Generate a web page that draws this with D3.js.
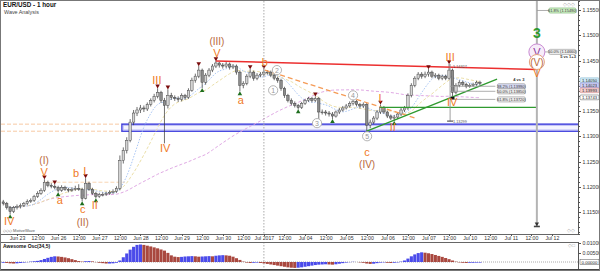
<!DOCTYPE html>
<html>
<head>
<meta charset="utf-8">
<style>
    body { margin: 0; background: #fff; }
    svg { display: block; font-family: "Liberation Sans", Arial, sans-serif; }
    .axis path, .axis line { stroke: #555; shape-rendering: crispEdges; }
    .axis text { fill: #333; font-size: 5.2px; }
</style>
</head>
<body>
<div id="chart"></div>
<script src="https://cdn.jsdelivr.net/npm/d3@7"></script>
<script>

const W = 600, H = 271;

// 2-hour bars, hour index counted in trading hours from Jun 23 00:00
const startHour = -8;
const barHours = 2;
const firstOpen = 1.1170;

const closes = [
    1.1167,1.1159,1.1151,1.1159,1.1161,1.1163,1.1167,1.1171,1.1173,1.1181,
    1.1187,1.1193,1.1209,1.1203,1.1201,1.1199,1.1193,1.1199,1.1195,1.1193,
    1.1195,1.1197,1.1195,1.1177,1.1207,1.1195,1.1187,1.1181,1.1185,1.1185,
    1.1187,1.1189,1.1191,1.1197,1.1252,1.1272,1.1292,1.1328,1.1346,1.1352,
    1.1356,1.1354,1.1363,1.1371,1.1379,1.1387,1.1371,1.1361,1.1381,1.1377,
    1.1375,1.1373,1.1381,1.1377,1.1391,1.1411,1.1419,1.1431,1.1407,1.1421,
    1.1431,1.1439,1.1445,1.1441,1.1439,1.1443,1.1437,1.1439,1.1427,1.1401,
    1.1405,1.1419,1.1427,1.1415,1.1421,1.1423,1.1427,1.1427,1.1421,1.1415,
    1.1411,1.1395,1.1381,1.1371,1.1365,1.1361,1.1357,1.1365,1.1371,1.1375,
    1.1371,1.1375,1.1348,1.1348,1.1346,1.1344,1.1340,1.1348,1.1352,1.1356,
    1.1360,1.1365,1.1369,1.1363,1.1360,1.1363,1.1322,1.1328,1.1336,1.1348,
    1.1357,1.1348,1.1340,1.1336,1.1338,1.1344,1.1352,1.1356,1.1381,1.1401,
    1.1415,1.1423,1.1419,1.1423,1.1427,1.1419,1.1421,1.1415,1.1419,1.1415,
    1.1431,1.1387,1.1401,1.1407,1.1403,1.1399,1.1401,1.1403,1.1407,1.1405
];
const highs = [
    1.1174,1.1170,1.1162,1.1162,1.1165,1.1167,1.1170,1.1175,1.1177,1.1184,
    1.1191,1.1197,1.1215,1.1212,1.1207,1.1205,1.1202,1.1203,1.1202,1.1198,
    1.1199,1.1202,1.1205,1.1198,1.1217,1.1210,1.1198,1.1190,1.1188,1.1189,
    1.1190,1.1193,1.1195,1.1201,1.1262,1.1278,1.1298,1.1334,1.1352,1.1358,
    1.1362,1.1361,1.1367,1.1375,1.1384,1.1395,1.1390,1.1376,1.1393,1.1386,
    1.1381,1.1379,1.1385,1.1384,1.1395,1.1416,1.1424,1.1439,1.1434,1.1425,
    1.1435,1.1443,1.1449,1.1447,1.1445,1.1447,1.1446,1.1443,1.1442,1.1430,
    1.1409,1.1423,1.1433,1.1430,1.1425,1.1427,1.1433,1.1431,1.1430,1.1424,
    1.1418,1.1414,1.1398,1.1384,1.1375,1.1369,1.1364,1.1368,1.1374,1.1378,
    1.1378,1.1379,1.1378,1.1353,1.1352,1.1350,1.1348,1.1351,1.1356,1.1360,
    1.1364,1.1369,1.1373,1.1372,1.1366,1.1367,1.1366,1.1333,1.1340,1.1352,
    1.1363,1.1360,1.1351,1.1343,1.1342,1.1348,1.1356,1.1360,1.1385,1.1405,
    1.1419,1.1427,1.1427,1.1428,1.1433,1.1430,1.1425,1.1424,1.1422,1.1422,
    1.1443,1.1434,1.1405,1.1411,1.1410,1.1406,1.1405,1.1406,1.1410,1.1410
];
const lows = [
    1.1163,1.1155,1.1145,1.1148,1.1155,1.1157,1.1160,1.1164,1.1168,1.1170,
    1.1178,1.1184,1.1190,1.1199,1.1197,1.1195,1.1189,1.1190,1.1192,1.1189,
    1.1190,1.1192,1.1192,1.1171,1.1175,1.1192,1.1184,1.1177,1.1178,1.1181,
    1.1182,1.1184,1.1186,1.1188,1.1193,1.1246,1.1266,1.1288,1.1322,1.1340,
    1.1346,1.1348,1.1350,1.1359,1.1367,1.1375,1.1366,1.1286,1.1355,1.1372,
    1.1370,1.1368,1.1369,1.1372,1.1374,1.1388,1.1406,1.1415,1.1395,1.1402,
    1.1417,1.1427,1.1435,1.1436,1.1434,1.1435,1.1432,1.1433,1.1422,1.1389,
    1.1395,1.1401,1.1415,1.1410,1.1411,1.1417,1.1419,1.1422,1.1417,1.1411,
    1.1406,1.1390,1.1376,1.1367,1.1361,1.1357,1.1353,1.1354,1.1362,1.1368,
    1.1367,1.1368,1.1334,1.1343,1.1341,1.1339,1.1334,1.1337,1.1344,1.1349,
    1.1353,1.1357,1.1361,1.1359,1.1355,1.1356,1.1310,1.1316,1.1324,1.1332,
    1.1344,1.1344,1.1336,1.1332,1.1330,1.1334,1.1340,1.1348,1.1352,1.1377,
    1.1397,1.1411,1.1414,1.1415,1.1418,1.1415,1.1415,1.1411,1.1411,1.1411,
    1.1412,1.1379,1.1383,1.1397,1.1399,1.1395,1.1396,1.1398,1.1400,1.1401
];

// Awesome Oscillator (34,5), one value per bar
const aoValues = [
    -0.0004,-0.0005,-0.0007,-0.0008,-0.0007,-0.0005,-0.0003,-0.0001,0.0002,0.0004,
    0.0006,0.0010,0.0016,0.0022,0.0027,0.0030,0.0029,0.0027,0.0024,0.0020,
    0.0015,0.0010,0.0005,0.0002,0.0004,0.0005,0.0003,-0.0001,-0.0004,-0.0006,
    -0.0008,-0.0008,-0.0007,-0.0004,0.0008,0.0025,0.0045,0.0065,0.0080,0.0090,
    0.0092,0.0090,0.0086,0.0082,0.0077,0.0072,0.0066,0.0060,0.0048,0.0035,
    0.0028,0.0026,0.0027,0.0029,0.0030,0.0031,0.0030,0.0028,0.0029,0.0030,
    0.0031,0.0030,0.0033,0.0035,0.0036,0.0035,0.0033,0.0028,0.0020,0.0011,
    0.0002,-0.0003,-0.0005,-0.0004,-0.0003,-0.0005,-0.0007,-0.0010,-0.0013,-0.0016,
    -0.0019,-0.0022,-0.0025,-0.0028,-0.0030,-0.0031,-0.0030,-0.0028,-0.0025,-0.0022,
    -0.0019,-0.0016,-0.0014,-0.0013,-0.0012,-0.0013,-0.0014,-0.0012,-0.0009,-0.0006,
    -0.0003,-0.0001,0.0001,0.0000,-0.0002,-0.0004,-0.0008,-0.0010,-0.0009,-0.0006,
    -0.0003,-0.0002,-0.0004,-0.0005,-0.0004,-0.0002,0.0002,0.0008,0.0018,0.0030,
    0.0040,0.0047,0.0051,0.0049,0.0046,0.0042,0.0037,0.0032,0.0027,0.0021,
    0.0015,0.0008,0.0002,-0.0002,-0.0004,-0.0005,-0.0004,-0.0004,-0.0003,-0.0003
];

const dayLabels = ["Jun 23", "Jun 26", "Jun 27", "Jun 28", "Jun 29", "Jun 30", "Jul 2017",
    "Jul 04", "Jul 05", "Jul 06", "Jul 07", "Jul 10", "Jul 11", "Jul 12"];
const monthBreakDay = 6;

// swing markers (bar index)
const pivotHighs = [12, 15, 24, 45, 48, 57, 62, 72, 76, 91, 102, 110, 124, 130];
const pivotLows = [2, 16, 23, 27, 58, 69, 86, 92, 96, 106, 114];

// wave labels: [bar index, price, text, kind]
const waveLabels = [
    [1.7, 1.1133, "IV", "minor"],
    [11.9, 1.1229, "V", "minor"],
    [11.9, 1.1252, "(I)", "major"],
    [16.5, 1.1173, "a", "minor"],
    [21.2, 1.1227, "b", "minor"],
    [23.8, 1.1232, "I", "minor"],
    [23.2, 1.1155, "c", "minor"],
    [23.2, 1.1129, "(II)", "major"],
    [26.7, 1.1163, "II", "minor"],
    [44.8, 1.1411, "III", "minor"],
    [47.2, 1.1276, "IV", "minor"],
    [62.3, 1.1465, "V", "minor"],
    [62.3, 1.1487, "(III)", "major"],
    [69.3, 1.1371, "a", "minor"],
    [76.3, 1.1447, "b", "minor"],
    [79.8, 1.1431, "2", "circle"],
    [78.7, 1.1391, "1", "circle"],
    [91.5, 1.1326, "3", "circle"],
    [102, 1.1381, "4", "circle"],
    [106.1, 1.1300, "5", "circle"],
    [106.1, 1.1268, "c", "minor"],
    [106.1, 1.1244, "(IV)", "major"],
    [109.9, 1.1375, "I", "minor"],
    [113.6, 1.1318, "II", "minor"],
    [130.3, 1.1457, "III", "minor"],
    [130.9, 1.1367, "IV", "minor"],
    [155.6, 1.1504, "3", "green"],
    [155.6, 1.1467, "V", "purple"],
    [155.6, 1.1447, "(V)", "majorc"],
    [155.6, 1.1425, "V", "minor"]
];

// drawn lines: [bar index, price] pairs
const redLine = [[62, 1.1449], [155.6, 1.1432]];
const orangeDash = [[76.3, 1.1431], [120.1, 1.1336]];
const greenTrend = [[106, 1.1310], [144, 1.1413]];
const greenLevel = [[109.9, 1.1357], [155.6, 1.1357]];
const leftLevels = [1.1324, 1.1310];
const iLevel = [[12, 1.1209], [35.5, 1.1209]];
const blueZone = [34.6, 1.1324, 1.1310];

// projections
const projTop = [130.3, 1.1443, "1.14327"];
const projBottom = [130.3, 1.1330, "1.13299"];
const fibRetrace = [[1.1399, "38.2% (1.13990)"], [1.1389, "50.0% (1.13850)"], [1.1373, "61.8% (1.13720)"]];
const fibEnd = 143.5;
const targetBar = 155.6;
const targetLow = 1.1121;
const fibExt = [[1.1549, "61.8% (1.15490)"], [1.1467, "50.0% (1.14660)"]];
const axisTags = [[1.1411, "1.14050"], [1.1401, "1.14023"], [1.1391, "1.13993"], [1.1377, "1.13743"]];

// ---------------------------------------------------------------
const plot = { left: 1, right: 578, top: 1, bottom: 234 };
const osc = { top: 242, bottom: 269 };

const svg = d3.select("#chart").append("svg")
    .attr("width", W).attr("height", H)
    .attr("viewBox", `0 0 ${W} ${H}`);

const x = d3.scaleLinear().domain([0, 24]).range([17, 58.15]);
const y = d3.scaleLinear().domain([1.11065, 1.15678]).range([plot.bottom, plot.top]);
const yo = d3.scaleLinear().domain([-0.00368, 0.01053]).range([osc.bottom, osc.top]);
const bx = k => x(startHour + k * barHours);

svg.append("rect").attr("width", W).attr("height", H).attr("fill", "#fff");

const defs = svg.append("defs");
defs.append("clipPath").attr("id", "clipMain")
    .append("rect").attr("x", plot.left).attr("y", plot.top)
    .attr("width", plot.right - plot.left).attr("height", plot.bottom - plot.top);

const main = svg.append("g").attr("clip-path", "url(#clipMain)");

// month separator
[[plot.top, plot.bottom], [osc.top, osc.bottom]].forEach(function (r) {
    svg.append("line")
        .attr("x1", x(monthBreakDay * 24)).attr("x2", x(monthBreakDay * 24))
        .attr("y1", r[0]).attr("y2", r[1])
        .attr("stroke", "#aaa").attr("stroke-dasharray", "1.5 1.5");
});

// left dashed levels and the blue zone
leftLevels.forEach(function (p) {
    main.append("line")
        .attr("x1", plot.left).attr("x2", bx(blueZone[0]))
        .attr("y1", y(p)).attr("y2", y(p))
        .attr("stroke", "#f7c9a3").attr("stroke-dasharray", "4 2");
});
main.append("line")
    .attr("x1", bx(iLevel[0][0])).attr("x2", bx(iLevel[1][0]))
    .attr("y1", y(iLevel[0][1])).attr("y2", y(iLevel[1][1]))
    .attr("stroke", "#f9d6b4").attr("stroke-dasharray", "4 2");

main.append("rect")
    .attr("x", bx(blueZone[0])).attr("y", y(blueZone[1]))
    .attr("width", plot.right - bx(blueZone[0]) + 2)
    .attr("height", y(blueZone[2]) - y(blueZone[1]))
    .attr("fill", "#f4f4ff").attr("stroke", "#3a3adc").attr("stroke-width", 1.4);
main.append("rect")
    .attr("x", bx(blueZone[0]) + 1.3).attr("y", y(blueZone[1]) + 1.3)
    .attr("width", plot.right - bx(blueZone[0]))
    .attr("height", y(blueZone[2]) - y(blueZone[1]) - 2.6)
    .attr("fill", "none").attr("stroke", "#b8b8f4").attr("stroke-width", 0.8);

// moving averages
function sma(n) {
    return closes.map(function (c, i) {
        return d3.mean(closes.slice(Math.max(0, i - n + 1), i + 1));
    });
}
const maLine = d3.line().x((d, i) => bx(i)).y(d => y(d)).curve(d3.curveBasis);
main.append("path").attr("d", maLine(sma(60)))
    .attr("fill", "none").attr("stroke", "#e0a8e4").attr("stroke-width", 1).attr("stroke-dasharray", "3 2");
main.append("path").attr("d", maLine(sma(14)))
    .attr("fill", "none").attr("stroke", "#ebdfa8").attr("stroke-width", 1).attr("stroke-dasharray", "3 2");
main.append("path").attr("d", maLine(sma(8)))
    .attr("fill", "none").attr("stroke", "#a9c6f5").attr("stroke-width", 1).attr("stroke-dasharray", "1.5 1.5");

// candles
const bars = closes.map(function (c, i) {
    return { k: i, o: i ? closes[i - 1] : firstOpen, c: c, h: highs[i], l: lows[i] };
});
const bw = (bx(1) - bx(0)) * 0.72;
const candle = main.append("g").selectAll("g").data(bars).enter().append("g");
candle.append("line")
    .attr("x1", d => bx(d.k)).attr("x2", d => bx(d.k))
    .attr("y1", d => y(d.h)).attr("y2", d => y(d.l))
    .attr("stroke", "#333").attr("stroke-width", 0.7);
candle.append("rect")
    .attr("x", d => bx(d.k) - bw / 2).attr("width", bw)
    .attr("y", d => y(Math.max(d.o, d.c)))
    .attr("height", d => Math.max(0.8, Math.abs(y(d.o) - y(d.c))))
    .attr("fill", d => d.c >= d.o ? "#d4d4d4" : "#8c8c8c")
    .attr("stroke", "#3a3a3a").attr("stroke-width", 0.45);

// trend lines
const pl = d3.line().x(d => bx(d[0])).y(d => y(d[1]));
main.append("path").attr("d", pl(redLine)).attr("stroke", "#ec2f2f").attr("stroke-width", 1.5).attr("fill", "none");
main.append("path").attr("d", pl(orangeDash)).attr("stroke", "#f59a55").attr("stroke-width", 1.3)
    .attr("stroke-dasharray", "5 3").attr("fill", "none");
main.append("path").attr("d", pl(greenLevel)).attr("stroke", "#2f9a2f").attr("stroke-width", 1.3).attr("fill", "none");
main.append("path").attr("d", pl(greenTrend)).attr("stroke", "#2f9a2f").attr("stroke-width", 1.4).attr("fill", "none");

// swing markers
const tri = d3.symbol().type(d3.symbolTriangle).size(9);
main.selectAll(".ph").data(pivotHighs).enter().append("path")
    .attr("d", tri)
    .attr("transform", k => `translate(${bx(k)},${y(highs[k]) - 2.5}) rotate(180)`)
    .attr("fill", "#7a0c0c");
main.selectAll(".pl").data(pivotLows).enter().append("path")
    .attr("d", tri)
    .attr("transform", k => `translate(${bx(k)},${y(lows[k]) + 2.5})`)
    .attr("fill", "#1e6e1e");
main.append("rect")
    .attr("x", bx(131) - 2).attr("y", y(lows[131]) + 0.5).attr("width", 4).attr("height", 3)
    .attr("fill", "#111");

// projection from wave III high
main.append("line")
    .attr("x1", bx(projTop[0])).attr("x2", bx(projBottom[0]))
    .attr("y1", y(projTop[1])).attr("y2", y(projBottom[1]))
    .attr("stroke", "#888").attr("stroke-width", 0.8);
main.append("line")
    .attr("x1", bx(projBottom[0]) - 3).attr("x2", bx(projBottom[0]) + 3)
    .attr("y1", y(projBottom[1])).attr("y2", y(projBottom[1]))
    .attr("stroke", "#555").attr("stroke-width", 1.2);
main.append("text").attr("x", bx(projTop[0]) + 3).attr("y", y(projTop[1]) + 4)
    .attr("font-size", 3.8).attr("fill", "#555").text(projTop[2]);
main.append("text").attr("x", bx(projBottom[0]) + 3).attr("y", y(projBottom[1]) + 1.5)
    .attr("font-size", 3.8).attr("fill", "#555").text(projBottom[2]);

function tagBox(g, xl, yc, w, text, fill, stroke) {
    g.append("rect").attr("x", xl).attr("y", yc - 2.6).attr("width", w).attr("height", 5.2)
        .attr("rx", 1.5).attr("fill", fill).attr("stroke", stroke).attr("stroke-width", 0.5);
    g.append("text").attr("x", xl + w / 2).attr("y", yc).attr("dy", "0.35em")
        .attr("text-anchor", "middle").attr("font-size", 3.9).attr("fill", "#333").text(text);
}

fibRetrace.forEach(function (f, i) {
    main.append("line")
        .attr("x1", bx(projTop[0])).attr("x2", bx(fibEnd))
        .attr("y1", y(f[0])).attr("y2", y(f[0]))
        .attr("stroke", "#9a9a9a").attr("stroke-width", 0.8);
    tagBox(main, bx(fibEnd) + 2, y(f[0]), 28, f[1], i === 0 ? "#d6d9f2" : "#ececec", "#888");
});
main.append("text").attr("x", bx(fibEnd) + 29).attr("y", y(fibRetrace[0][0]) - 5)
    .attr("text-anchor", "end").attr("font-size", 4).attr("font-weight", "bold").attr("fill", "#333").text("4 vs 3");

// target projection column
main.append("line")
    .attr("x1", bx(targetBar)).attr("x2", bx(targetBar))
    .attr("y1", plot.top).attr("y2", y(targetLow))
    .attr("stroke", "#b4b4b4").attr("stroke-width", 2);
main.append("rect")
    .attr("x", bx(targetBar) - 3).attr("y", y(targetLow) - 1).attr("width", 6).attr("height", 1.6)
    .attr("fill", "#444");
main.append("path").attr("d", d3.symbol().type(d3.symbolTriangle).size(8))
    .attr("transform", `translate(${bx(targetBar)},${y(targetLow) - 3}) rotate(180)`).attr("fill", "#333");
fibExt.forEach(function (f, i) {
    main.append("line")
        .attr("x1", bx(targetBar)).attr("x2", bx(targetBar) + 12)
        .attr("y1", y(f[0])).attr("y2", y(f[0]))
        .attr("stroke", "#9a9a9a").attr("stroke-width", 0.8);
    tagBox(main, bx(targetBar) + 12, y(f[0]), 27, f[1], i === 0 ? "#cdeec4" : "#ececec", i === 0 ? "#6aa860" : "#888");
});
main.append("text").attr("x", bx(targetBar) + 39).attr("y", y(fibExt[1][0]) + 6.5)
    .attr("text-anchor", "end").attr("font-size", 4).attr("font-weight", "bold").attr("fill", "#333").text("5 vs 1+3");

// wave labels
const labelStyle = {
    minor: { color: "#f07a26", size: 11 },
    major: { color: "#b9683a", size: 10 },
    majorc: { color: "#b9683a", size: 10 },
    circle: { color: "#999", size: 7 },
    green: { color: "#2e9a2e", size: 14 },
    purple: { color: "#8a3a9a", size: 11 }
};
waveLabels.forEach(function (l) {
    const st = labelStyle[l[3]];
    const cx = bx(l[0]), cy = y(l[1]);
    if (l[3] === "circle") {
        main.append("circle").attr("cx", cx).attr("cy", cy).attr("r", 4.6)
            .attr("fill", "#fff").attr("stroke", "#aaa").attr("stroke-width", 0.9);
    }
    if (l[3] === "purple") {
        main.append("circle").attr("cx", cx).attr("cy", cy).attr("r", 8)
            .attr("fill", "#f7ecf9").attr("stroke", "#c98ad2").attr("stroke-width", 1);
    }
    if (l[3] === "majorc") {
        main.append("circle").attr("cx", cx).attr("cy", cy).attr("r", 7.5)
            .attr("fill", "#fff").attr("stroke", "#e4a07c").attr("stroke-width", 1);
    }
    main.append("text").attr("x", cx).attr("y", cy).attr("dy", "0.36em")
        .attr("text-anchor", "middle")
        .attr("font-size", st.size)
        .attr("font-weight", l[3] === "green" ? "bold" : "normal")
        .attr("fill", st.color).text(l[2]);
});

// ---------------------------------------------------------------
// awesome oscillator
svg.append("line").attr("x1", plot.left).attr("x2", plot.right)
    .attr("y1", yo(0)).attr("y2", yo(0))
    .attr("stroke", "#aaa").attr("stroke-dasharray", "1 1");
const obw = (bx(1) - bx(0)) * 0.9;
svg.append("g").selectAll("rect").data(aoValues).enter().append("rect")
    .attr("x", (d, i) => bx(i) - obw / 2).attr("width", obw)
    .attr("y", d => yo(Math.max(0, d)))
    .attr("height", d => Math.abs(yo(d) - yo(0)))
    .attr("fill", (d, i) => (i && d < aoValues[i - 1]) ? "#a9483f" : "#4b4bea");

// ---------------------------------------------------------------
// frames
svg.append("line").attr("x1", 0).attr("x2", plot.right).attr("y1", plot.bottom).attr("y2", plot.bottom)
    .attr("stroke", "#666").attr("shape-rendering", "crispEdges");
svg.append("line").attr("x1", 0).attr("x2", plot.right).attr("y1", osc.top).attr("y2", osc.top)
    .attr("stroke", "#666").attr("shape-rendering", "crispEdges");
svg.append("line").attr("x1", 0).attr("x2", W).attr("y1", osc.bottom).attr("y2", osc.bottom)
    .attr("stroke", "#444").attr("shape-rendering", "crispEdges");

// price axis (the 1.14000 label sits under the value tags)
const majors = d3.range(1112, 1157).filter(v => v % 5 === 0).map(v => v / 1000);
const minors = d3.range(1111, 1157).map(v => v / 1000);
const fmt5 = d3.format(".5f");
svg.append("g").attr("class", "axis")
    .attr("transform", `translate(${plot.right},0)`)
    .call(d3.axisRight(y).tickValues(minors).tickSize(1.5).tickFormat(""));
svg.append("g").attr("class", "axis")
    .attr("transform", `translate(${plot.right},0)`)
    .call(d3.axisRight(y).tickValues(majors).tickSize(3).tickPadding(1.5)
        .tickFormat(v => Math.abs(v - 1.14) < 1e-6 ? "" : fmt5(v)))
    .call(g => g.select(".domain").attr("d", `M0.5,0V${plot.bottom}`));

const tagColors = [["#cfeaf6", "#7fb3cc"], ["#cfd0f4", "#7f80cc"], ["#f4cfcf", "#cc7f7f"], ["#fff", "#555"]];
axisTags.forEach(function (t, i) {
    const ty = y(t[0]);
    svg.append("rect").attr("x", plot.right + 2).attr("y", ty - 2.4).attr("width", 19).attr("height", 4.8)
        .attr("rx", 1).attr("fill", tagColors[i][0]).attr("stroke", tagColors[i][1]).attr("stroke-width", 0.5);
    svg.append("text").attr("x", plot.right + 11.5).attr("y", ty).attr("dy", "0.35em")
        .attr("text-anchor", "middle").attr("font-size", 4.2).attr("fill", "#222").text(t[1]);
});

// oscillator axis
svg.append("g").attr("class", "axis")
    .attr("transform", `translate(${plot.right},0)`)
    .call(d3.axisRight(yo).tickValues([0.01, 0.005]).tickSize(3).tickPadding(1.5).tickFormat(fmt5))
    .call(g => g.select(".domain").attr("d", `M0.5,${osc.top}V${osc.bottom}`));
svg.append("rect").attr("x", plot.right + 2).attr("y", yo(0) - 2.4).attr("width", 19).attr("height", 4.8)
    .attr("fill", "#fff").attr("stroke", "#555").attr("stroke-width", 0.5);
svg.append("text").attr("x", plot.right + 11.5).attr("y", yo(0)).attr("dy", "0.35em")
    .attr("text-anchor", "middle").attr("font-size", 4.4).attr("fill", "#222").text("0.00000");

// time axis
const tTicks = [], tNames = {};
dayLabels.forEach(function (d, i) {
    tTicks.push(i * 24); tNames[i * 24] = d;
    if (i < dayLabels.length - 1) { tTicks.push(i * 24 + 12); tNames[i * 24 + 12] = "12:00"; }
});
svg.append("g").attr("class", "axis")
    .attr("transform", `translate(0,${plot.bottom})`)
    .call(d3.axisBottom(x).tickValues(tTicks).tickSize(1.5).tickPadding(0.5).tickFormat(t => tNames[t]))
    .call(g => g.select(".domain").remove());

// titles
svg.append("text").attr("x", 3).attr("y", 7).attr("font-size", 6.3).attr("font-weight", "bold")
    .attr("fill", "#111").text("EUR/USD - 1 hour");
svg.append("text").attr("x", 4).attr("y", 13.5).attr("font-size", 5.4).attr("fill", "#444").text("Wave Analysis");
svg.append("text").attr("x", 3).attr("y", 248).attr("font-size", 5).attr("font-weight", "bold")
    .attr("fill", "#111").text("Awesome Osc(34,5)");
svg.append("text").attr("x", 3).attr("y", 231.8).attr("font-size", 4).attr("fill", "#555").text("◇◇◇ MotiveWave");
svg.append("text").attr("x", 575).attr("y", 6).attr("text-anchor", "end").attr("font-size", 5).attr("fill", "#aaa").text("◇◇◇");
svg.append("text").attr("x", 575).attr("y", 232).attr("text-anchor", "end").attr("font-size", 5).attr("fill", "#aaa").text("◇◇");
svg.append("text").attr("x", 575).attr("y", 247).attr("text-anchor", "end").attr("font-size", 5).attr("fill", "#aaa").text("◇□");

// outer frame
svg.append("rect").attr("x", 0.5).attr("y", 0.5).attr("width", W - 1).attr("height", H - 1)
    .attr("fill", "none").attr("stroke", "#777");

</script>
</body>
</html>
